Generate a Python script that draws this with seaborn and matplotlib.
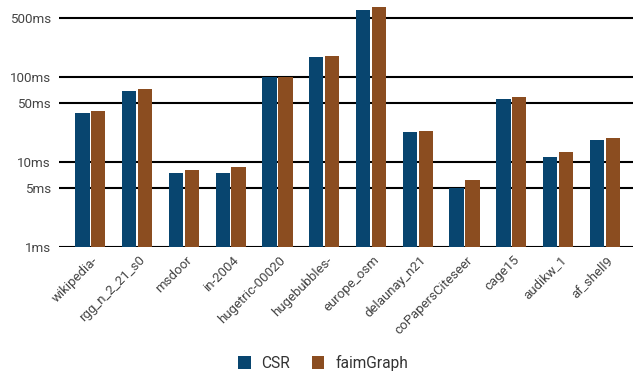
import pandas as pd
import numpy as np
import matplotlib
matplotlib.use("Agg")
import matplotlib.pyplot as plt
import matplotlib.transforms as mtrans
import seaborn as sns
from matplotlib.ticker import FixedLocator, NullLocator

graphs = ["wikipedia-", "rgg_n_2_21_s0", "msdoor", "in-2004", "hugetric-00020",
          "hugebubbles-", "europe_osm", "delaunay_n21", "coPapersCiteseer",
          "cage15", "audikw_1", "af_shell9"]
csr_ms = [38, 68, 7.5, 7.5, 101, 172, 614, 22.4, 5.0, 55, 11.5, 18]
faim_ms = [39.5, 72, 8.0, 8.7, 100, 178, 661, 23, 6.1, 58, 13.0, 19.2]
series = ["CSR", "faimGraph"]
yticks = [1, 5, 10, 50, 100, 500]
ytick_labels = ["1ms", "5ms", "10ms", "50ms", "100ms", "500ms"]
colors = ["#08456f", "#8b4d20"]

df = pd.DataFrame({
    "graph": graphs * 2,
    "series": [series[0]] * len(graphs) + [series[1]] * len(graphs),
    "ms": csr_ms + faim_ms,
})

sns.set_style("white")
plt.rcParams["font.family"] = ["Roboto", "DejaVu Sans"]

# axes box in pixels: left 59, right 633, bottom 247 (1ms), top 2
top_px = 2
fig = plt.figure(figsize=(6.34, 3.71), dpi=100)
ax = fig.add_axes([59 / 634, 1 - 247 / 371, (633 - 59) / 634, (247 - top_px) / 371])

sns.barplot(data=df, x="graph", y="ms", hue="series", palette=colors,
            width=0.68, gap=0.1, saturation=1, ax=ax, legend=True,
            edgecolor="none", log_scale=(False, True))

ax.set_yscale("log")
ax.set_ylim(1, 10 ** ((247 - top_px) / 85))
ax.set_xlim(-0.67, 11.6)
ax.yaxis.set_major_locator(FixedLocator(yticks))
ax.yaxis.set_minor_locator(NullLocator())
ax.set_yticklabels(ytick_labels)
for y in yticks:
    ax.axhline(y, color="black", lw=1.5, zorder=0)

for s in ax.spines.values():
    s.set_visible(False)
ax.tick_params(axis="y", length=0, pad=6, labelsize=9.6, labelcolor="#444444")
ax.tick_params(axis="x", length=0, pad=8, labelsize=9.5, labelcolor="#444444")
ax.set_xticks(range(len(graphs)))
ax.set_xticklabels(graphs, rotation=45, ha="right", va="center",
                   rotation_mode="anchor")
shift = mtrans.ScaledTranslation(6 / 100, 0, fig.dpi_scale_trans)
for lab in ax.get_xticklabels():
    lab.set_transform(lab.get_transform() + shift)
ax.set_xlabel("")
ax.set_ylabel("")

ax.legend(loc="center", bbox_to_anchor=(0.46, -0.473), ncol=2, frameon=False,
          fontsize=11.2, handlelength=0.8, handleheight=0.9, handletextpad=0.7,
          columnspacing=1.4, labelcolor="#333333")

fig.savefig("out.png", dpi=100)
